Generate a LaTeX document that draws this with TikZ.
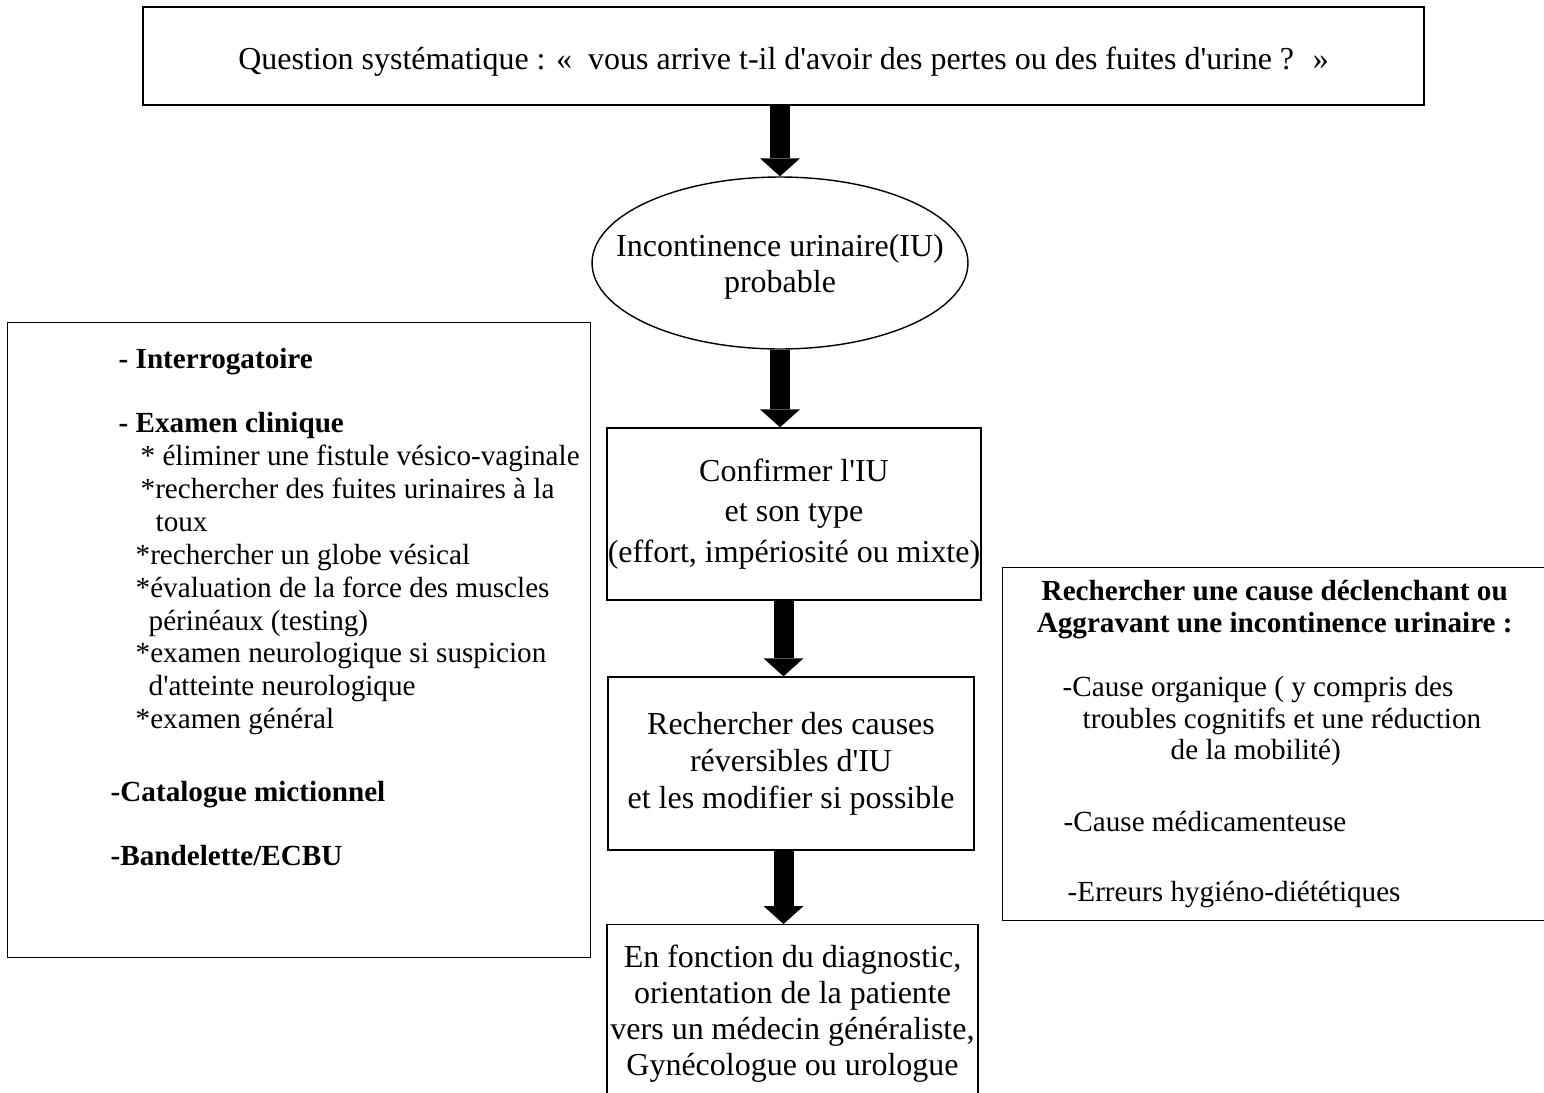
\documentclass[tikz,border=0pt]{standalone}
\usepackage{fontspec}
\setmainfont{Liberation Serif}[Ligatures=TeXOff]
\usetikzlibrary{arrows.meta,shapes.geometric}
\newlength\pxu
\setlength\pxu{0.02cm}

\begin{document}
\begin{tikzpicture}[x=0.02cm, y=-0.02cm,
    box/.style={draw, line width=0.8pt, inner sep=0pt, align=center,
      font=\fontsize{18.2}{20.4}\selectfont},
    sidebox/.style={draw, line width=0.8pt, inner sep=0pt, align=flush left,
      font=\fontsize{16.6}{18.7}\selectfont},
    bigarrow/.style={line width=0.4cm,
      -{Triangle[width=0.8cm,length=0.36cm,line width=0pt]}}]
  \useasboundingbox (0,0) rectangle (1544,1092);
  \clip (0,0) rectangle (1544,1092);

  % main column
  \node[box, minimum width=25.62cm, minimum height=1.96cm] (question) at (783.5,56)
    {\rule{0pt}{19pt}Question systématique : «~ vous arrive t-il d'avoir des pertes ou des fuites d'urine ?~ »};
  \node[box, ellipse, inner xsep=-0.7cm, minimum width=7.52cm, minimum height=3.44cm,
    font=\fontsize{18.2}{21}\selectfont] (probable) at (780,263)
    {\rule{0pt}{17pt}Incontinence urinaire(IU)\\probable};
  \node[box, minimum width=7.48cm, minimum height=3.44cm,
    font=\fontsize{18.2}{23}\selectfont] (confirm) at (794,514)
    {Confirmer l'IU\\et son type\\(effort, impériosité ou mixte)};
  \node[box, minimum width=7.32cm, minimum height=3.46cm,
    font=\fontsize{18.2}{21}\selectfont] (reversible) at (791,763.5)
    {Rechercher des causes\\réversibles d'IU\\et les modifier si possible};
  \node[box, minimum width=7.42cm, minimum height=3.56cm, anchor=north] (orientation) at (792.5,924)
    {En fonction du diagnostic,\\orientation de la patiente\\vers un médecin généraliste,\\Gynécologue ou urologue};

  % side boxes
  \node[sidebox, text width=11.66cm, minimum height=12.7cm, anchor=north west] (exams) at (7,322) {%
    \hspace*{111\pxu}\textbf{- Interrogatoire}\\[18pt]
    \hspace*{111\pxu}\textbf{- Examen clinique}\\
    \hspace*{133\pxu}* éliminer une fistule vésico-vaginale\\
    \hspace*{133\pxu}*rechercher des fuites urinaires à la\\
    \hspace*{148\pxu}toux\\
    \hspace*{128\pxu}*rechercher un globe vésical\\
    \hspace*{128\pxu}*évaluation de la force des muscles\\
    \hspace*{141\pxu}périnéaux (testing)\\
    \hspace*{128\pxu}*examen neurologique si suspicion\\
    \hspace*{141\pxu}d'atteinte neurologique\\
    \hspace*{128\pxu}*examen général\\[22.7pt]
    \hspace*{103\pxu}\textbf{-Catalogue mictionnel}\\[18pt]
    \hspace*{103\pxu}\textbf{-Bandelette/ECBU}\\[19pt]
    \mbox{}};
  \node[sidebox, text width=11.16cm, minimum height=7.06cm, anchor=north west,
    font=\fontsize{16.6}{17.9}\selectfont] (causes) at (1002,567) {%
    \makebox[544\pxu]{\bfseries Rechercher une cause déclenchant ou}\\
    \makebox[544\pxu]{\bfseries Aggravant une incontinence urinaire :}\\[19pt]
    \hspace*{60\pxu}-Cause organique ( y compris des\\
    \hspace*{80\pxu}troubles cognitifs et une réduction\\
    \hspace*{168\pxu}de la mobilité)\\[23pt]
    \hspace*{61\pxu}-Cause médicamenteuse\\[22pt]
    \hspace*{65\pxu}-Erreurs hygiéno-diététiques};

  % arrows
  \draw[bigarrow] (probable.north |- question.south) -- (probable.north);
  \draw[bigarrow] (probable.south) -- (probable.south |- confirm.north);
  \draw[bigarrow] (confirm.south -| question.south) -- (reversible.north -| question.south);
  \draw[bigarrow] (reversible.south -| question.south) -- (orientation.north -| question.south);
\end{tikzpicture}
\end{document}
